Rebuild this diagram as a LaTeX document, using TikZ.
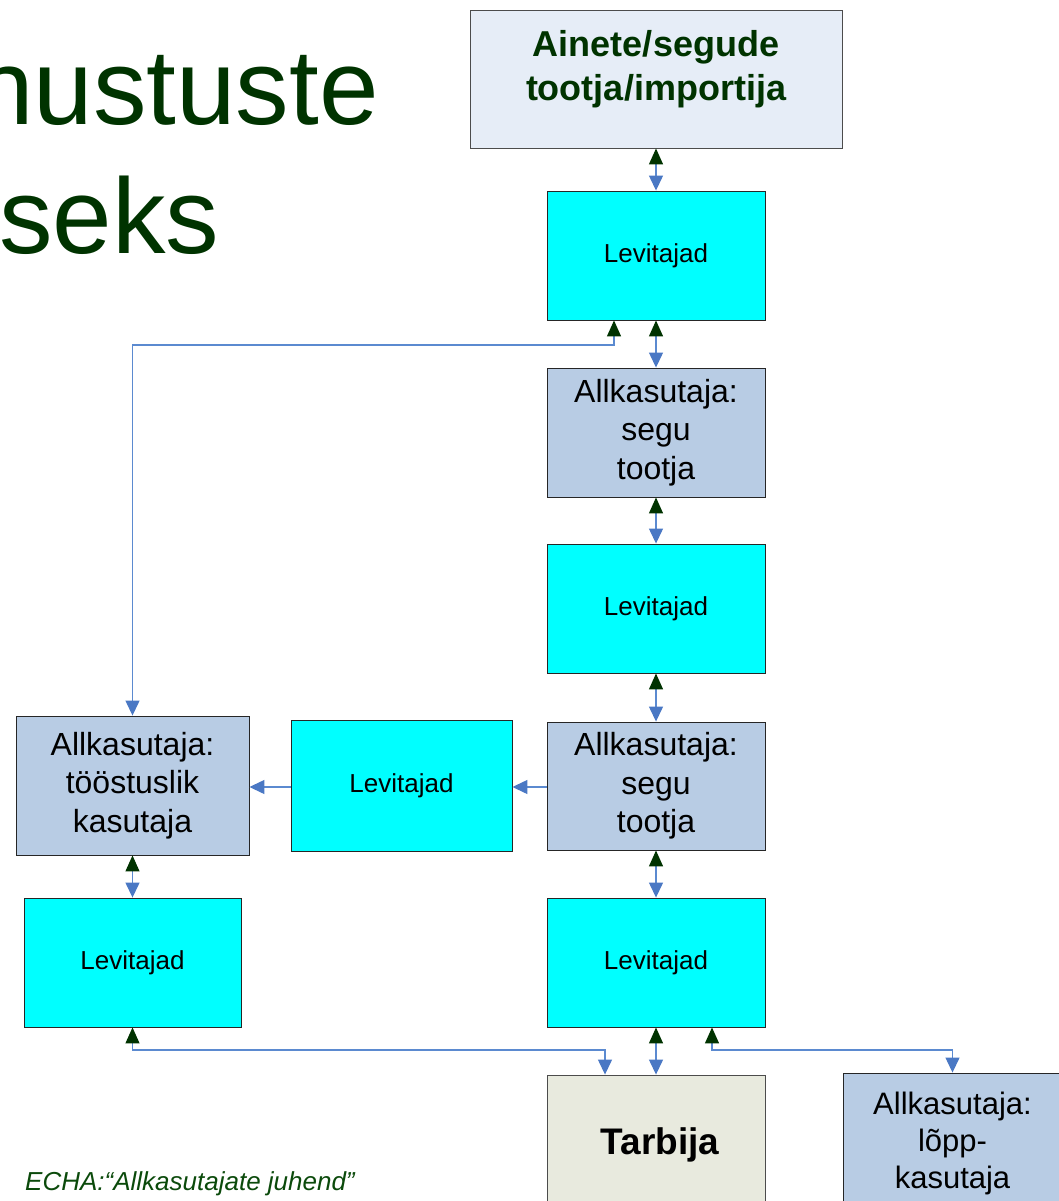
\documentclass[tikz,border=0pt]{standalone}
\usepackage{fontspec}
\setmainfont{Liberation Sans}
\usetikzlibrary{arrows.meta}
\definecolor{dkgreen}{HTML}{003300}
\definecolor{fgreen}{HTML}{0B4A0B}
\definecolor{lineblue}{HTML}{5B8AD0}
\definecolor{tipblue}{HTML}{4A78C4}
\definecolor{topfill}{HTML}{E6EDF7}
\definecolor{levfill}{HTML}{00FFFF}
\definecolor{allfill}{HTML}{B8CCE4}
\definecolor{tarbfill}{HTML}{E8EADE}
\tikzset{
  box/.style={draw=black!85, line width=0.9pt, inner sep=2pt, align=center, text=black},
  levbox/.style={box, fill=levfill, minimum width=218pt, minimum height=129pt, font=\fontsize{26}{30}\selectfont},
  allbox/.style={box, fill=allfill, minimum width=218pt, minimum height=129pt, font=\fontsize{32}{38.5}\selectfont},
  gtip/.tip={Triangle[width=14pt,length=16pt,color=dkgreen]},
  btip/.tip={Triangle[width=14pt,length=15pt,color=tipblue]},
  conn/.style={draw=lineblue, line width=1.3pt, gtip-btip},
  oneway/.style={draw=lineblue, line width=1.3pt, -btip},
}
\begin{document}
\begin{tikzpicture}[x=1pt,y=-1pt]
\useasboundingbox (0,0) rectangle (1059,1201);
\clip (0,0) rectangle (1059,1201);
% title fragments
\node[anchor=base west, inner sep=0pt, text=dkgreen, font=\fontsize{107}{110}\selectfont] (t1) at (-26,125) {nustuste};
\node[anchor=base west, inner sep=0pt, text=dkgreen, font=\fontsize{107}{110}\selectfont] (t2) at (-1,253) {seks};
\node[anchor=base west, inner sep=0pt, text=fgreen, font=\fontsize{26}{30}\selectfont\itshape] (src) at (25,1190) {ECHA:“Allkasutajate juhend”};
% boxes
\node[box, draw=black!70, fill=topfill, minimum width=372pt, minimum height=138pt,
  label={[yshift=10pt, align=center, text=dkgreen, font=\fontsize{36}{44}\selectfont\bfseries]center:Ainete/segude\\tootja/importija}] (top) at (656,79) {};
\node[levbox] (lev1) at (656,255.5) {Levitajad};
\node[allbox] (seg1) at (656,432.5) {Allkasutaja:\\segu\\tootja};
\node[levbox] (lev2) at (656,608.5) {Levitajad};
\node[allbox, minimum height=128pt] (seg2) at (656,786) {Allkasutaja:\\segu\\tootja};
\node[levbox, minimum width=221pt, minimum height=131pt] (levm) at (401.5,785.5) {Levitajad};
\node[allbox, minimum width=233pt, minimum height=139pt] (ind) at (132.5,785.5) {Allkasutaja:\\tööstuslik\\kasutaja};
\node[levbox, minimum width=217pt] (levl) at (132.5,962.5) {Levitajad};
\node[levbox] (levr) at (656,962.5) {Levitajad};
\node[box, draw=black!70, fill=tarbfill, minimum width=218pt, minimum height=140pt, font=\fontsize{37}{40}\selectfont\bfseries] (tarb) at (656,1145) {\hspace{8pt}Tarbija};
\node[allbox, minimum width=219pt, minimum height=140pt, font=\fontsize{31}{37}\selectfont] (lopp) at (952.5,1143) {Allkasutaja:\\lõpp-\\kasutaja};
% connectors
\draw[conn] (top.south) -- (lev1.north);
\draw[conn] (lev1.south) -- (seg1.north);
\draw[conn] (seg1.south) -- (lev2.north);
\draw[conn] (lev2.south) -- (seg2.north);
\draw[conn] (seg2.south) -- (levr.north);
\draw[conn] (ind.south) -- (levl.north);
\draw[conn] (levr.south) -- (tarb.north);
\draw[oneway] (seg2.west |- 0,787) -- (levm.east |- 0,787);
\draw[oneway] (levm.west |- 0,787) -- (ind.east |- 0,787);
\coordinate (b1) at (614,345);
\draw[conn] ([xshift=-42pt]lev1.south) -- (b1) -| (ind.north);
\coordinate (b2) at (605,1050);
\draw[conn] (levl.south) |- (b2) -- ([xshift=-51pt]tarb.north);
\coordinate (b3) at (712,1050);
\draw[conn] ([xshift=56pt]levr.south) -- (b3) -| (lopp.north);
\end{tikzpicture}
\end{document}
